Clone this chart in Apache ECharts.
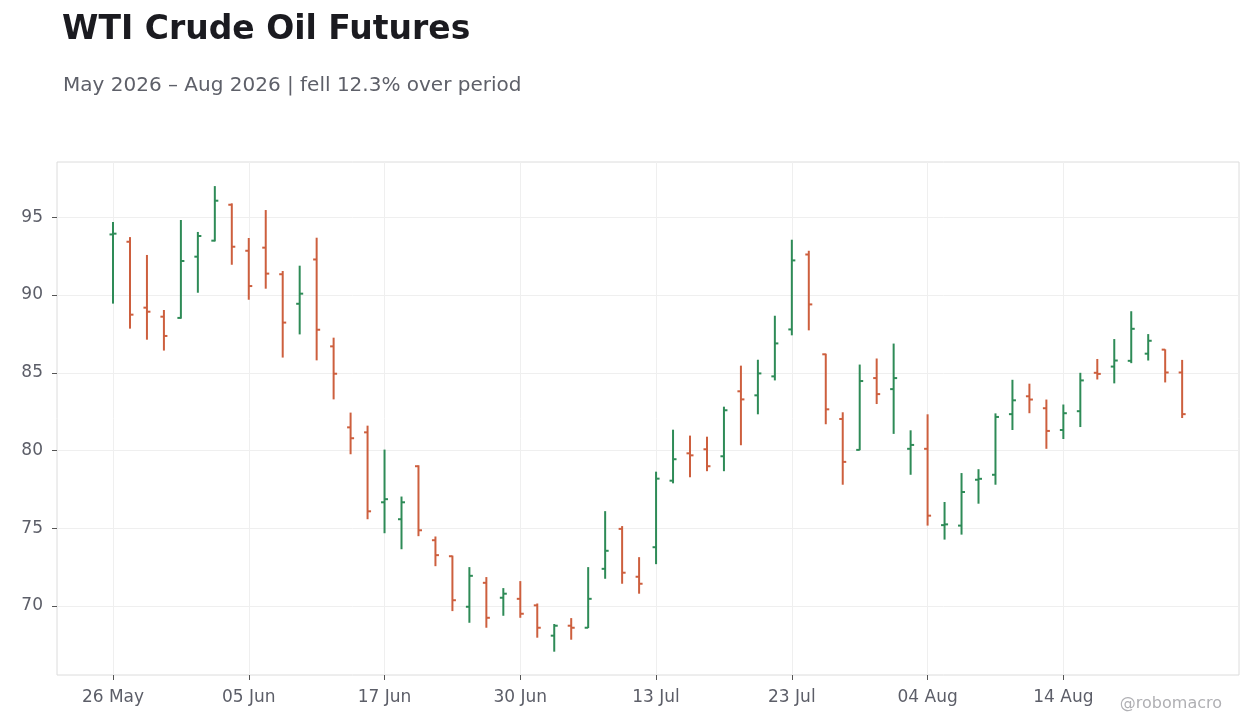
<!DOCTYPE html>
<html>
<head>
<meta charset="utf-8">
<title>WTI Crude Oil Futures</title>
<script src="https://cdn.jsdelivr.net/npm/echarts@6/dist/echarts.min.js"></script>
<style>
  html, body { margin: 0; padding: 0; background: #ffffff; }
  #chart { width: 1260px; height: 728px; }
</style>
</head>
<body>
<div id="chart"></div>
<script>
// trading days (NYMEX calendar, holidays skipped)
const dates = [
  '26 May', '27 May', '28 May', '29 May', '01 Jun', '02 Jun', '03 Jun', '04 Jun',
  '05 Jun', '08 Jun', '09 Jun', '10 Jun', '11 Jun', '12 Jun', '15 Jun', '16 Jun',
  '17 Jun', '18 Jun', '22 Jun', '23 Jun', '24 Jun', '25 Jun', '26 Jun', '29 Jun',
  '30 Jun', '01 Jul', '02 Jul', '06 Jul', '07 Jul', '08 Jul', '09 Jul', '10 Jul',
  '13 Jul', '14 Jul', '15 Jul', '16 Jul', '17 Jul', '20 Jul', '21 Jul', '22 Jul',
  '23 Jul', '24 Jul', '27 Jul', '28 Jul', '29 Jul', '30 Jul', '31 Jul', '03 Aug',
  '04 Aug', '05 Aug', '06 Aug', '07 Aug', '10 Aug', '11 Aug', '12 Aug', '13 Aug',
  '14 Aug', '17 Aug', '18 Aug', '19 Aug', '20 Aug', '21 Aug', '24 Aug', '25 Aug',
];

const opens = [
  93.90, 93.43, 89.19, 88.61, 88.53, 92.47, 93.50, 95.81,
  92.85, 93.05, 91.34, 89.44, 92.29, 86.70, 81.49, 81.17,
  76.67, 75.58, 78.99, 74.23, 73.20, 69.95, 71.49, 70.53,
  70.46, 70.04, 68.09, 68.73, 68.60, 72.39, 74.96, 71.88,
  73.78, 78.06, 79.82, 80.08, 79.63, 83.81, 83.55, 84.77,
  87.79, 92.61, 86.19, 82.03, 80.04, 84.66, 83.95, 80.11,
  80.11, 75.20, 75.17, 78.12, 78.44, 82.34, 83.49, 82.72,
  81.32, 82.53, 85.00, 85.40, 85.77, 86.23, 86.49, 85.02,
];
const highs = [
  94.70, 93.73, 92.58, 89.04, 94.83, 94.06, 97.01, 95.90,
  93.67, 95.47, 91.55, 91.89, 93.69, 87.26, 82.44, 81.60,
  80.06, 77.04, 79.05, 74.47, 73.24, 72.50, 71.86, 71.15,
  71.60, 70.16, 68.84, 69.22, 72.50, 76.10, 75.14, 73.14,
  78.64, 81.34, 80.96, 80.89, 82.82, 85.46, 85.84, 88.67,
  93.56, 92.85, 86.23, 82.46, 85.53, 85.92, 86.88, 81.30,
  82.33, 76.69, 78.55, 78.80, 82.39, 84.55, 84.30, 83.28,
  82.96, 85.00, 85.89, 87.17, 88.96, 87.49, 86.51, 85.83,
];
const lows = [
  89.45, 87.84, 87.13, 86.43, 88.48, 90.15, 93.45, 91.95,
  89.70, 90.41, 85.98, 87.47, 85.80, 83.29, 79.76, 75.58,
  74.68, 73.65, 74.49, 72.56, 69.67, 68.92, 68.60, 69.37,
  69.24, 67.96, 67.06, 67.83, 68.58, 71.75, 71.43, 70.79,
  72.69, 77.89, 78.28, 78.67, 78.67, 80.34, 82.33, 84.51,
  87.41, 87.73, 81.69, 77.80, 80.02, 82.99, 81.07, 78.44,
  75.17, 74.27, 74.59, 76.58, 77.80, 81.32, 82.40, 80.11,
  80.74, 81.51, 84.57, 84.32, 85.62, 85.79, 84.38, 82.09,
];
const closes = [
  93.95, 88.74, 88.93, 87.37, 92.19, 93.80, 96.07, 93.11,
  90.58, 91.38, 88.23, 90.09, 87.77, 84.94, 80.79, 76.09,
  76.87, 76.67, 74.87, 73.27, 70.37, 71.94, 69.24, 70.79,
  69.50, 68.60, 68.73, 68.60, 70.46, 73.55, 72.14, 71.43,
  78.19, 79.44, 79.69, 78.99, 82.59, 83.29, 84.96, 86.89,
  92.23, 89.40, 82.65, 79.27, 84.47, 83.63, 84.66, 80.36,
  75.81, 75.25, 77.33, 78.18, 82.16, 83.23, 83.28, 81.26,
  82.40, 84.51, 84.93, 85.79, 87.83, 87.06, 85.02, 82.34,
];

const xTicks = [0, 8, 16, 24, 32, 40, 48, 56];
const yTicks = [70, 75, 80, 85, 90, 95];

const UP = '#2e8b57';
const DOWN = '#cd5f3e';
const textGray = '#5c5e68';
const font = 'DejaVu Sans, Verdana, sans-serif';

const ohlc = dates.map((d, i) => [i, opens[i], highs[i], lows[i], closes[i]]);

function renderBar(params, api) {
  const i = api.value(0);
  const o = api.value(1), h = api.value(2), l = api.value(3), c = api.value(4);
  const top = api.coord([i, h]);
  const bot = api.coord([i, l]);
  const po = api.coord([i, o]);
  const pc = api.coord([i, c]);
  const style = { stroke: c >= o ? UP : DOWN, lineWidth: 2 };
  const tick = 3.5;
  return {
    type: 'group',
    children: [
      { type: 'line', shape: { x1: top[0], y1: top[1], x2: bot[0], y2: bot[1] }, style },
      { type: 'line', shape: { x1: po[0] - tick, y1: po[1], x2: po[0], y2: po[1] }, style },
      { type: 'line', shape: { x1: pc[0], y1: pc[1], x2: pc[0] + tick, y2: pc[1] }, style },
    ],
  };
}

const chart = echarts.init(document.getElementById('chart'), null, { renderer: 'canvas' });

chart.setOption({
  backgroundColor: '#ffffff',
  animation: false,
  title: [
    {
      text: 'WTI Crude Oil Futures',
      left: 62,
      top: 13,
      padding: 0,
      textStyle: { fontFamily: font, fontSize: 33, fontWeight: 'bold', color: '#1b1b20', lineHeight: 34 },
    },
    {
      text: 'May 2026 – Aug 2026 | fell 12.3% over period',
      left: 63,
      top: 76,
      padding: 0,
      textStyle: { fontFamily: font, fontSize: 20, fontWeight: 'normal', color: '#5e6069', lineHeight: 20 },
    },
  ],
  graphic: [
    {
      type: 'text',
      right: 38,
      top: 696,
      style: { text: '@robomacro', font: `16px ${font}`, fill: '#b0b0b4' },
    },
  ],
  grid: {
    left: 57,
    right: 21,
    top: 162,
    bottom: 53,
    show: true,
    borderColor: '#dcdcdc',
    borderWidth: 1,
  },
  xAxis: {
    type: 'value',
    min: -3.3,
    max: 66.35,
    axisLine: { show: false, onZero: false },
    axisTick: { show: true, customValues: xTicks, length: 5, lineStyle: { color: '#555555' } },
    axisLabel: {
      customValues: xTicks,
      margin: 14,
      color: textGray,
      fontFamily: font,
      fontSize: 17,
      formatter: (v) => dates[Math.round(v)] || '',
    },
    splitLine: { show: true, lineStyle: { color: '#efefef', width: 1 } },
  },
  yAxis: {
    type: 'value',
    min: 65.56,
    max: 98.56,
    axisLine: { show: false, onZero: false },
    axisTick: { show: true, customValues: yTicks, length: 5, lineStyle: { color: '#555555' } },
    axisLabel: {
      customValues: yTicks,
      margin: 14,
      color: textGray,
      fontFamily: font,
      fontSize: 17,
    },
    splitLine: { show: true, lineStyle: { color: '#efefef', width: 1 } },
  },
  series: [
    {
      type: 'custom',
      renderItem: renderBar,
      encode: { x: 0, y: [1, 2, 3, 4] },
      data: ohlc,
      clip: true,
    },
  ],
});

window.addEventListener('resize', () => chart.resize());
</script>
</body>
</html>
